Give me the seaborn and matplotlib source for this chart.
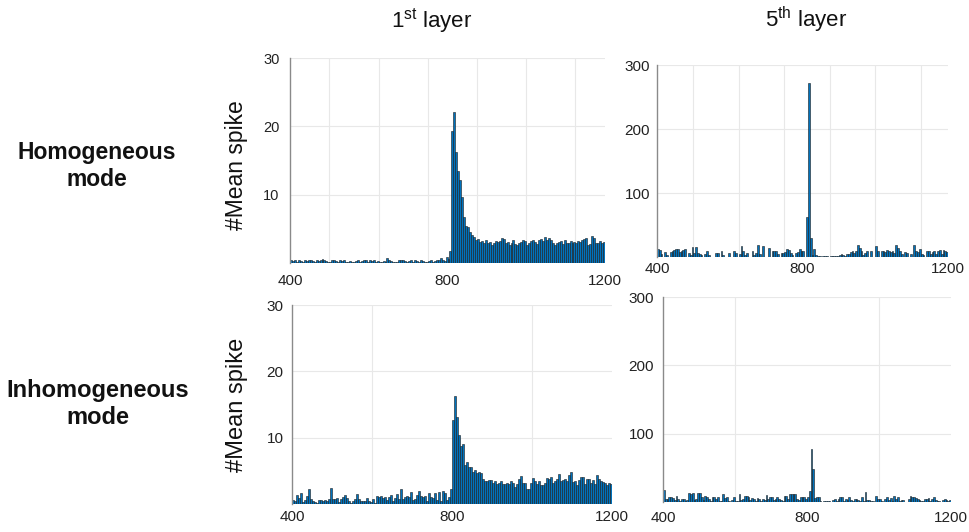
import numpy as np
import pandas as pd
import matplotlib
matplotlib.use("Agg")
import matplotlib.pyplot as plt
import seaborn as sns

# ---------------- data ----------------
bin_start, bin_stop, bin_width = 400, 1200, 5

homog_layer1 = [
    0.5,0.3,0.4,0.2,0.4,0.3,0.2,0.4,0.3,0.5,
    0.4,0.3,0.2,0.4,0.3,0.5,0.6,0.4,0.3,0.1,
    0.2,0.4,0.5,0.3,0.2,0.5,0.3,0.4,0.2,0.1,
    0.3,0.2,0.1,0.3,0.4,0.2,0.3,0.5,0.4,0.2,
    0.5,0.3,0.4,0.2,0.3,0.2,0.1,0.3,0.2,0.7,
    0.5,0.3,0.1,0.2,0.2,0.5,0.4,0.4,0.3,0.2,
    0.3,0.4,0.2,0.5,0.3,0.2,0.4,0.3,0.1,0.2,
    0.3,0.4,0.2,0.3,0.5,0.4,0.8,0.5,0.3,0.9,
    0.6,1.8,19.3,22.1,16.2,13.4,12.2,9.6,6.8,5.4,
    5.3,4.5,4.1,3.8,3.3,3.5,3.1,3.2,2.9,3.4,
    3.0,3.1,2.7,3.0,3.2,3.1,3.2,3.6,3.5,3.0,
    3.1,2.6,2.9,3.3,2.8,2.6,2.9,3.1,3.3,3.2,
    2.7,3.0,3.2,3.4,3.1,2.8,3.3,3.5,3.2,3.8,
    3.4,3.7,3.3,3.0,2.6,3.0,3.1,3.2,2.8,3.3,
    2.9,3.0,3.2,2.9,3.1,2.9,3.2,3.1,3.4,3.5,
    3.7,2.7,2.8,3.9,3.6,3.0,3.0,3.2,3.0,3.1,
]

homog_layer5 = [
    12,11,4,0,8,3,0,8,9,11,
    13,12,8,10,11,13,0,6,3,16,
    6,16,6,4,3,0,4,10,3,0,
    0,0,7,6,0,10,3,0,0,6,
    0,0,9,6,0,4,17,9,3,6,
    0,0,9,3,6,18,5,0,17,0,
    0,14,0,9,10,10,5,0,7,7,
    8,13,11,6,3,0,7,8,12,9,
    9,0,62,272,30,3,12,3,2,1,
    0,1,2,1,0,1,2,1,1,2,
    3,4,3,2,5,4,8,9,6,10,
    18,14,9,3,7,10,0,10,0,0,
    17,9,0,9,10,8,11,10,8,10,
    7,18,14,9,4,0,8,7,0,4,
    0,18,10,8,13,5,3,0,9,10,
    5,8,10,4,9,11,4,11,9,8,
]

inhomog_layer1 = [
    0.6,0.4,1.4,0.9,1.7,0.3,0.6,1.2,2.2,0.8,
    0.5,0.3,0.1,0.6,0.6,0.5,0.6,0.4,0.8,2.4,
    0.8,0.8,0.9,0.3,0.8,1.0,1.3,0.9,0.4,0.2,
    0.5,0.7,1.5,0.8,0.4,0.4,0.4,0.9,0.4,0.3,
    0.8,0.2,1.2,1.1,1.2,0.9,1.0,0.6,1.1,1.3,
    0.5,0.9,1.5,0.8,2.2,0.8,1.0,1.2,1.1,1.8,
    0.6,0.8,1.4,2.0,1.2,1.0,1.2,0.5,1.7,1.1,
    0.9,1.6,0.6,1.8,0.4,1.9,1.6,0.6,1.1,2.3,
    12.6,16.3,13.1,10.4,8.7,9.1,5.9,6.4,5.6,5.6,
    4.8,5.1,4.7,4.8,4.7,3.8,3.5,3.4,3.6,3.6,
    3.2,3.4,3.0,3.2,3.4,3.0,3.0,3.2,3.0,3.4,
    3.2,2.5,3.0,3.7,4.2,3.2,3.2,2.2,2.3,3.1,
    3.9,3.4,3.0,3.5,2.8,2.9,3.2,3.9,3.7,4.0,
    3.2,3.5,3.7,4.5,3.4,3.6,3.8,3.4,4.4,4.8,
    3.3,3.5,2.9,3.6,4.1,4.0,3.0,3.7,3.8,3.2,
    3.6,3.0,4.3,3.7,3.5,3.3,3.1,2.8,3.2,3.0,
]

inhomog_layer5 = [
    17,4,4,7,7,6,3,9,4,2,
    4,4,1,3,13,12,13,3,5,13,
    13,7,3,9,8,4,2,8,8,4,
    7,2,1,11,6,7,2,0,3,8,
    2,1,11,3,5,9,9,8,3,6,
    4,2,6,4,2,5,3,10,4,8,
    8,3,5,7,4,3,2,9,9,4,
    11,11,11,12,5,3,7,8,8,4,
    7,16,78,48,6,7,8,2,0,1,
    2,2,1,0,3,4,1,5,7,7,
    2,4,3,8,3,2,5,4,3,2,
    8,1,15,3,3,2,1,0,9,4,
    4,1,0,5,8,3,6,1,9,4,
    7,2,3,3,0,0,5,9,8,7,
    6,4,3,1,2,4,5,6,2,4,
    8,3,1,2,0,3,4,3,2,3,
]

x_tick_labels = [400, 800, 1200]
layer1_yticks = [10, 20, 30]
layer5_yticks = [100, 200, 300]
top_grid_x = [500, 625, 750, 875, 1000, 1125]
bottom_grid_x = [600, 800, 1000]

col_titles = ["1$^{\\mathrm{st}}$ layer", "5$^{\\mathrm{th}}$ layer"]
row_titles = ["Homogeneous\nmode", "Inhomogeneous\nmode"]
ylabel = "#Mean spike"

# ---------------- style ----------------
sns.set_style("white")
plt.rcParams["font.family"] = ["Liberation Sans", "DejaVu Sans"]
plt.rcParams["mathtext.fontset"] = "custom"
plt.rcParams["mathtext.rm"] = "Liberation Sans"
plt.rcParams["mathtext.it"] = "Liberation Sans:italic"
plt.rcParams["mathtext.bf"] = "Liberation Sans:bold"

fig = plt.figure(figsize=(9.7, 5.32), dpi=100)

centers = np.arange(bin_start, bin_stop, bin_width) + bin_width / 2

panels = [
    # data, rect, yticks, ylim, grid_x, xpad, ypad, ysize
    (homog_layer1, [0.299, 0.5056, 0.3247, 0.3853], layer1_yticks, 30, top_grid_x, 8.0, 7.5, 10.5),
    (homog_layer5, [0.6773, 0.5169, 0.3000, 0.3609], layer5_yticks, 300, top_grid_x, 3.5, 5.0, 11),
    (inhomog_layer1, [0.301, 0.0526, 0.3299, 0.3740], layer1_yticks, 30, bottom_grid_x, 4.5, 6.0, 11),
    (inhomog_layer5, [0.6835, 0.0564, 0.2969, 0.3853], layer5_yticks, 300, bottom_grid_x, 6.5, 6.5, 11),
]

for vals, rect, yt, ytop, gx, xpad, ypad, ysize in panels:
    ax = fig.add_axes(rect)
    df = pd.DataFrame({"t": centers, "v": np.asarray(vals, dtype=float)})
    sns.histplot(data=df, x="t", weights="v", binwidth=bin_width,
                 binrange=(bin_start, bin_stop), ax=ax,
                 color="#0072BD", edgecolor="#1a1a1a", linewidth=0.4,
                 alpha=1.0)
    ax.set_xlim(bin_start, bin_stop)
    ax.set_ylim(0, ytop)
    ax.set_yticks(yt)
    ax.set_xticks(x_tick_labels)
    ax.set_xticklabels([str(v) for v in x_tick_labels])
    ax.set_xticks(gx, minor=True)
    ax.set_xlabel("")
    ax.set_ylabel("")
    ax.set_axisbelow(True)
    ax.grid(False)
    ax.grid(which="minor", axis="x", color="#e8e8e8", linewidth=0.8)
    ax.grid(which="major", axis="y", color="#e8e8e8", linewidth=0.8)
    for s in ["top", "right", "bottom"]:
        ax.spines[s].set_visible(False)
    ax.spines["left"].set_color("#8a8a8a")
    ax.spines["left"].set_linewidth(1.0)
    ax.tick_params(axis="x", which="both", length=0, pad=xpad, labelsize=11, colors="#222222")
    ax.tick_params(axis="y", which="major", length=3, direction="in", width=0.8,
                   color="#8a8a8a", pad=ypad, labelsize=ysize, labelcolor="#222222")

# column titles
fig.text(0.445, 0.962, col_titles[0], ha="center", va="center", fontsize=16, color="#111111")
fig.text(0.831, 0.962, col_titles[1], ha="center", va="center", fontsize=16, color="#111111")

# row titles
fig.text(0.100, 0.688, row_titles[0], ha="center", va="center", fontsize=16.5,
         fontweight="bold", linespacing=1.25, color="#111111")
fig.text(0.101, 0.241, row_titles[1], ha="center", va="center", fontsize=17,
         fontweight="bold", linespacing=1.25, color="#111111")

# y labels
fig.text(0.244, 0.690, ylabel, ha="center", va="center", rotation=90, fontsize=16.5, color="#111111")
fig.text(0.244, 0.239, ylabel, ha="center", va="center", rotation=90, fontsize=17, color="#111111")

fig.savefig("out.png", dpi=100)
